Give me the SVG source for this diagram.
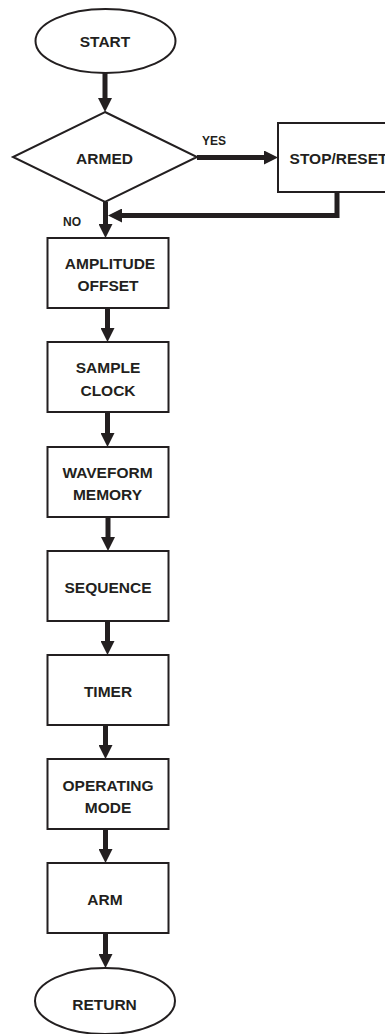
<svg xmlns="http://www.w3.org/2000/svg" width="385" height="1034" viewBox="0 0 385 1034">
  <style>
    .shape { fill: #ffffff; stroke: #231f20; stroke-width: 2; }
    .label { font-family: "Liberation Sans", Arial, sans-serif; font-weight: bold; font-size: 15.5px; fill: #231f20; text-anchor: middle; }
    .tag { font-family: "Liberation Sans", Arial, sans-serif; font-weight: bold; font-size: 12px; fill: #231f20; }
    .flow { fill: none; stroke: #231f20; stroke-width: 5; stroke-linejoin: miter; marker-end: url(#head); }
  </style>
  <defs>
    <!-- arrowhead: base sits on the line end, tip points forward 14px -->
    <marker id="head" markerUnits="userSpaceOnUse" viewBox="0 -7 14 14" markerWidth="14" markerHeight="14" refX="0" refY="0" orient="auto">
      <path d="M0,-7 L14,0 L0,7 Z" fill="#231f20"/>
    </marker>
  </defs>

  <rect width="385" height="1034" fill="#ffffff"/>

  <g id="connectors">
    <path class="flow" d="M105,73 V98"/>
    <path class="flow" d="M197,157.5 H264"/>
    <path class="flow" d="M337,192 V215.5 H122"/>
    <path class="flow" d="M105.5,202 V224"/>
    <path class="flow" d="M107.5,308 V328"/>
    <path class="flow" d="M107.5,412 V433"/>
    <path class="flow" d="M108,517 V537"/>
    <path class="flow" d="M107.5,621 V641"/>
    <path class="flow" d="M105.5,725 V745"/>
    <path class="flow" d="M105.5,829 V849"/>
    <path class="flow" d="M105.5,933 V954"/>
    <text class="tag" x="202" y="145">YES</text>
    <text class="tag" x="63" y="226">NO</text>
  </g>

  <g id="start">
    <ellipse class="shape" cx="105.5" cy="41" rx="70" ry="32" stroke-width="1.6"/>
    <text class="label" x="105" y="47">START</text>
  </g>

  <g id="armed">
    <polygon class="shape" points="105,112 197,157 105,202 13,157" stroke-width="1.6"/>
    <text class="label" x="104.5" y="164">ARMED</text>
  </g>

  <g id="stop-reset">
    <rect class="shape" x="278" y="123" width="121" height="69"/>
    <text class="label" x="338.5" y="164">STOP/RESET</text>
  </g>

  <g id="amplitude-offset">
    <rect class="shape" x="47.5" y="238" width="121" height="70"/>
    <text class="label" x="110" y="269">AMPLITUDE</text>
    <text class="label" x="108" y="291">OFFSET</text>
  </g>

  <g id="sample-clock">
    <rect class="shape" x="47.5" y="342" width="121" height="70"/>
    <text class="label" x="108" y="373">SAMPLE</text>
    <text class="label" x="108" y="396">CLOCK</text>
  </g>

  <g id="waveform-memory">
    <rect class="shape" x="47.5" y="447" width="121" height="70"/>
    <text class="label" x="107.5" y="478">WAVEFORM</text>
    <text class="label" x="107.5" y="500">MEMORY</text>
  </g>

  <g id="sequence">
    <rect class="shape" x="47.5" y="551" width="121" height="70"/>
    <text class="label" x="108" y="593">SEQUENCE</text>
  </g>

  <g id="timer">
    <rect class="shape" x="47.5" y="655" width="121" height="70"/>
    <text class="label" x="108" y="697">TIMER</text>
  </g>

  <g id="operating-mode">
    <rect class="shape" x="47.5" y="759" width="121" height="70"/>
    <text class="label" x="108" y="791">OPERATING</text>
    <text class="label" x="108" y="813">MODE</text>
  </g>

  <g id="arm">
    <rect class="shape" x="47.5" y="863" width="121" height="70"/>
    <text class="label" x="105" y="905">ARM</text>
  </g>

  <g id="return">
    <ellipse class="shape" cx="105" cy="1001" rx="70" ry="33" stroke-width="1.6"/>
    <text class="label" x="104.5" y="1010">RETURN</text>
  </g>
</svg>
